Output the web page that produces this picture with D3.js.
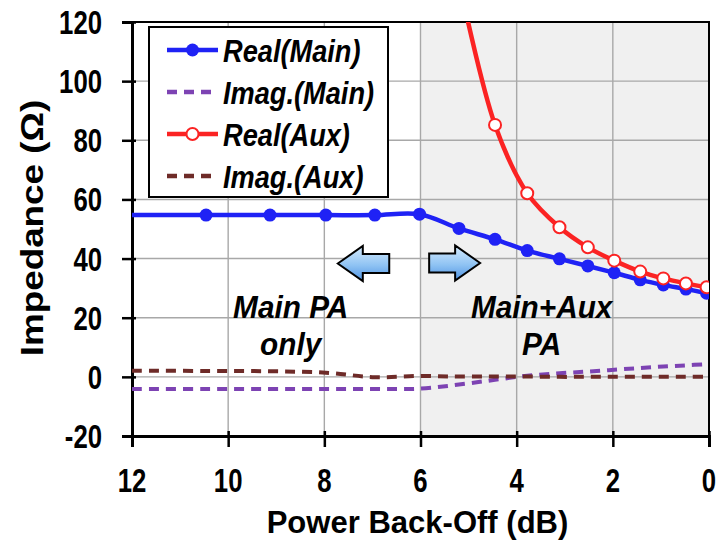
<!DOCTYPE html>
<html>
<head>
<meta charset="utf-8">
<script src="https://cdn.jsdelivr.net/npm/d3@7"></script>
<style>
  body { margin: 0; background: #fff; }
  svg { display: block; }
  text { font-family: "Liberation Sans", Arial, sans-serif; font-weight: bold; fill: #000; }
</style>
</head>
<body>
<svg id="chart" width="719" height="544"></svg>
<script>
// ---- data ----
const xTicks = [12, 10, 8, 6, 4, 2, 0];
const yTicks = [-20, 0, 20, 40, 60, 80, 100, 120];

// back-off grid shared by the main-PA series and the aux imaginary part (dB)
const backOffMain = [12, 10.46, 9.13, 7.97, 6.95, 6.02, 5.2, 4.45, 3.78, 3.11, 2.52, 1.97, 1.43, 0.95, 0.48, 0.05];
const realMain    = [54.7, 54.7, 54.7, 54.7, 54.7, 55.0, 50.2, 46.5, 42.7, 39.9, 37.5, 35.2, 32.8, 31.1, 29.7, 28.3];
const imagMain    = [-4.1, -4.1, -4.1, -4.1, -4.1, -4.0, -2.6, -1.0, 0.4, 1.2, 1.8, 2.4, 3.0, 3.5, 3.9, 4.3];
const imagAux     = [2.1, 2.0, 1.9, 1.4, -0.1, 0.3, 0.1, 0.1, 0.1, 0, 0, 0, 0, 0, 0, 0];

// aux PA turns on below 6 dB back-off
const backOffAux = [5.2, 4.45, 3.78, 3.11, 2.52, 1.97, 1.43, 0.95, 0.48, 0.05];
const realAux    = [134, 85.2, 62.1, 50.6, 43.8, 39.3, 35.6, 33.3, 31.6, 30.3];

const seriesNames  = ["Real(Main)", "Imag.(Main)", "Real(Aux)", "Imag.(Aux)"];
const regionLabels = [["Main PA", "only"], ["Main+Aux", "PA"]];
const xTitle = "Power Back-Off (dB)";
const yTitle = "Impedance (\u03A9)";

// ---- styles ----
const BLUE = "#1f22f5", PURPLE = "#7d43b3", RED = "#fb2323", BROWN = "#6e2b28";
const GRID = "#a8a8a8";

const svg = d3.select("#chart");
const x = d3.scaleLinear().domain([12, 0]).range([132, 709]);
const y = d3.scaleLinear().domain([-20, 120]).range([436, 22]);
const [x0, x1] = x.range();
const [yb, yt] = y.range();

const defs = svg.append("defs");
defs.append("clipPath").attr("id", "plotClip")
  .append("rect").attr("x", x0).attr("y", yt).attr("width", x1 - x0).attr("height", yb - yt);
const grad = defs.append("linearGradient").attr("id", "arrowFill")
  .attr("x1", 0).attr("y1", 0).attr("x2", 0).attr("y2", 1);
grad.append("stop").attr("offset", "0%").attr("stop-color", "#d6ebfd");
grad.append("stop").attr("offset", "55%").attr("stop-color", "#8fc3f3");
grad.append("stop").attr("offset", "100%").attr("stop-color", "#4f93e3");

// condensed text helper
function label(g, str, px, py, size, opts = {}) {
  const sx = opts.sx ?? 0.8;
  return g.append("text")
    .attr("transform", `translate(${px},${py})${opts.rotate ? ` rotate(${opts.rotate})` : ""} scale(${sx},1)`)
    .attr("text-anchor", opts.anchor || "middle")
    .style("font-size", size + "px")
    .style("font-style", opts.italic ? "italic" : "normal")
    .text(str);
}

// shaded Main+Aux region
svg.append("rect")
  .attr("x", x(6)).attr("y", yt).attr("width", x(0) - x(6)).attr("height", yb - yt)
  .attr("fill", "#f0f0f0");

// gridlines
const grid = svg.append("g");
grid.selectAll(".vg").data(xTicks).join("line")
  .attr("x1", d => x(d)).attr("x2", d => x(d)).attr("y1", yt).attr("y2", yb)
  .attr("stroke", GRID).attr("stroke-width", 1.4);
grid.selectAll(".hg").data(yTicks).join("line")
  .attr("x1", x0).attr("x2", x1).attr("y1", d => y(d)).attr("y2", d => y(d))
  .attr("stroke", GRID).attr("stroke-width", 1.4);

// plot border
svg.append("rect").attr("x", x0).attr("y", yt).attr("width", x1 - x0).attr("height", yb - yt)
  .attr("fill", "none").attr("stroke", "#000").attr("stroke-width", 2);

// axes
const yAxis = svg.append("g").attr("transform", `translate(${x0},0)`)
  .call(d3.axisLeft(y).tickValues(yTicks).tickSize(10));
const xAxis = svg.append("g").attr("transform", `translate(0,${yb})`)
  .call(d3.axisBottom(x).tickValues(xTicks).tickSize(11));
[yAxis, xAxis].forEach(a => {
  a.select(".domain").attr("stroke", "#000").attr("stroke-width", 3);
  a.selectAll(".tick line").attr("stroke", "#000").attr("stroke-width", 2.5);
  a.selectAll(".tick text").remove();
});
yAxis.selectAll(".tick line").attr("x1", 4);
xAxis.selectAll(".tick line").attr("y1", -5);

const tickLabels = svg.append("g");
yTicks.forEach(v => label(tickLabels, String(v), 102, y(v) + 12, 33, { anchor: "end", sx: 0.78 }));
xTicks.forEach(v => label(tickLabels, String(v), x(v), 492, 33, { sx: 0.78 }));

// axis titles
label(svg, xTitle, (x0 + x1) / 2 - 3, 533, 32, { sx: 0.97 });
label(svg, yTitle, 43, 228, 32, { rotate: -90, sx: 1.15 });

// region annotations (two lines each)
const notes = svg.append("g");
regionLabels[0].forEach((t, i) => label(notes, t, x(8.7), 318 + i * 37, 32, { italic: true, sx: 0.93 }));
regionLabels[1].forEach((t, i) => label(notes, t, x(3.48), 318 + i * 37, 32, { italic: true, sx: 0.93 }));

// block arrows
function blockArrow(tipX, tailX, cy) {
  const dir = Math.sign(tipX - tailX);
  const headBase = tipX - dir * 25;
  const pts = [
    [tipX, cy], [headBase, cy - 17.5], [headBase, cy - 9.5], [tailX, cy - 9.5],
    [tailX, cy + 9.5], [headBase, cy + 9.5], [headBase, cy + 17.5]
  ];
  svg.append("path").attr("d", d3.line()(pts) + "Z")
    .attr("fill", "url(#arrowFill)").attr("stroke", "#000").attr("stroke-width", 2)
    .attr("stroke-linejoin", "miter");
}
blockArrow(x(7.72), x(6.65), 263.5);
blockArrow(x(4.76), x(5.82), 263);

// series
const plot = svg.append("g").attr("clip-path", "url(#plotClip)");
const curve = d3.curveCatmullRom.alpha(0.5);
const line = d3.line().x(d => x(d[0])).y(d => y(d[1])).curve(curve);

const mainPts = (vals) => backOffMain.map((b, i) => [b, vals[i]]);
const auxPts = backOffAux.map((b, i) => [b, realAux[i]]);

plot.append("path").attr("d", line(mainPts(realMain)))
  .attr("fill", "none").attr("stroke", BLUE).attr("stroke-width", 4.5);
plot.selectAll(".mk-main").data(mainPts(realMain).filter(d => d[0] < 12)).join("circle")
  .attr("cx", d => x(d[0])).attr("cy", d => y(d[1])).attr("r", 6.5).attr("fill", BLUE);

plot.append("path").attr("d", line(mainPts(imagMain)))
  .attr("fill", "none").attr("stroke", PURPLE).attr("stroke-width", 4)
  .attr("stroke-dasharray", "10,7");

plot.append("path").attr("d", line(auxPts))
  .attr("fill", "none").attr("stroke", RED).attr("stroke-width", 4.5);
plot.selectAll(".mk-aux").data(auxPts.filter(d => d[1] <= 120)).join("circle")
  .attr("cx", d => x(d[0])).attr("cy", d => y(d[1])).attr("r", 6)
  .attr("fill", "#fff").attr("stroke", RED).attr("stroke-width", 2);

plot.append("path").attr("d", line(mainPts(imagAux)))
  .attr("fill", "none").attr("stroke", BROWN).attr("stroke-width", 4)
  .attr("stroke-dasharray", "10,7");

// legend
const lg = svg.append("g");
lg.append("rect").attr("x", 149).attr("y", 27).attr("width", 239).attr("height", 170)
  .attr("fill", "#fff").attr("stroke", "#000").attr("stroke-width", 2);
const legendStyle = [
  { color: BLUE, dash: null, marker: "filled" },
  { color: PURPLE, dash: "10,7", marker: null },
  { color: RED, dash: null, marker: "open" },
  { color: BROWN, dash: "10,7", marker: null }
];
seriesNames.forEach((name, i) => {
  const cy = 50 + i * 42;
  const s = legendStyle[i];
  lg.append("line").attr("x1", 167).attr("x2", 218).attr("y1", cy).attr("y2", cy)
    .attr("stroke", s.color).attr("stroke-width", 4.5)
    .attr("stroke-dasharray", s.dash);
  if (s.marker === "filled")
    lg.append("circle").attr("cx", 192.5).attr("cy", cy).attr("r", 6.5).attr("fill", s.color);
  if (s.marker === "open")
    lg.append("circle").attr("cx", 192.5).attr("cy", cy).attr("r", 6)
      .attr("fill", "#fff").attr("stroke", s.color).attr("stroke-width", 2);
  label(lg, name, 223, cy + 11.5, 32, { anchor: "start", italic: true, sx: 0.85 });
});
</script>
</body>
</html>
